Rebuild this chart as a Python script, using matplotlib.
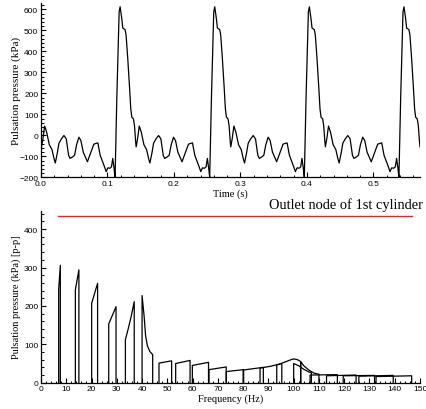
import matplotlib
matplotlib.use("Agg")
import matplotlib.pyplot as plt
from matplotlib.ticker import MultipleLocator
import numpy as np

# one period of the time signal (phase in s, pressure in kPa)
period = 0.1423
n_periods = 4
phase = [0.0, 0.0008, 0.003, 0.0055, 0.0085, 0.0125, 0.0165, 0.0195, 0.0215, 0.0245,
         0.027, 0.0305, 0.0345, 0.038, 0.0415, 0.0437, 0.0475, 0.0505, 0.0535, 0.057,
         0.060, 0.0635, 0.0698, 0.0745, 0.0795, 0.0855, 0.089, 0.092, 0.0955, 0.098,
         0.1005, 0.1035, 0.106, 0.1079, 0.110, 0.1114, 0.114, 0.1175, 0.119, 0.1215,
         0.123, 0.1265, 0.128, 0.1305, 0.133, 0.135, 0.1366, 0.139, 0.1406]
pressure = [-30, -55, -15, 44, 15, -45, -68, -110, -132, -85,
            -38, -18, -1, -17, -95, -110, -103, -95, -45, -9,
            -25, -80, -126, -85, -42, -36, -95, -120, -150, -173,
            -155, -157, -150, -110, -160, -200, 174, 587, 612, 555,
            511, 503, 476, 365, 237, 126, 86, 78, 46]
t_end = 0.5705

# spectrum bands: frequency points (Hz) and peak-to-peak amplitude (kPa) along each band top
band_freqs = [
    [7.0, 7.65],
    [13.6, 15.0],
    [20.05, 22.4],
    [26.8, 29.7],
    [33.4, 34.5, 35.6, 36.9],
    [40.0, 40.8, 41.4, 42.1, 43.1, 44.2],
    [46.7, 51.7],
    [53.3, 59.0],
    [59.9, 66.3],
    [66.5, 73.3],
    [73.3, 80.2],
    [80.0, 88.0],
    [86.7, 91.0, 95.3],
    [93.3, 95.0, 97.0, 99.0, 100.0, 101.5, 102.8],
    [102.8, 104.0, 106.0, 108.0, 110.0],
    [100.0, 102.0, 104.0, 106.0, 107.0],
    [106.5, 117.3],
    [113.0, 124.7],
    [119.6, 132.0],
    [125.8, 139.4],
    [132.6, 146.7],
]
band_amps = [
    [244, 306],
    [242, 294],
    [207, 259],
    [153, 198],
    [112, 140, 170, 211],
    [227, 174, 122, 96, 81, 73],
    [51, 57],
    [50, 58],
    [45, 53],
    [34, 41],
    [29, 34],
    [33, 40],
    [38, 43, 50],
    [46, 50, 55, 60, 62, 60, 55],
    [55, 44, 33, 25, 22],
    [50, 44, 35, 28, 26],
    [20, 21],
    [18, 20],
    [18, 19],
    [17, 19],
    [16, 18],
]

legend_label = "Outlet node of 1st cylinder"
legend_y = 433
legend_x = [6.9, 147.0]

tick_font = "Liberation Sans"
label_font = "Liberation Serif"

fig = plt.figure(figsize=(4.26, 4.10), dpi=100)
ax1 = fig.add_axes([41 / 426, 1 - 178.3 / 410, 379 / 426, 174.3 / 410])
ax2 = fig.add_axes([41 / 426, 1 - 383.7 / 410, 379 / 426, 172.0 / 410])

# time signal
t_all, p_all = [], []
for k in range(n_periods + 1):
    for ph, p in zip(phase, pressure):
        t = ph + k * period
        if t <= t_end:
            t_all.append(t)
            p_all.append(p)
ax1.plot(t_all, p_all, color="black", lw=0.9)
ax1.set_xlim(0, 0.57)
ax1.set_ylim(-200, 630)
ax1.xaxis.set_major_locator(MultipleLocator(0.1))
ax1.xaxis.set_minor_locator(MultipleLocator(0.02))
ax1.yaxis.set_major_locator(MultipleLocator(100))
ax1.yaxis.set_minor_locator(MultipleLocator(20))
ax1.set_xlabel("Time (s)", family=label_font, fontsize=7.5, labelpad=1)
ax1.set_ylabel("Pulsation pressure (kPa)", family=label_font, fontsize=8)

# spectrum
for f, a in zip(band_freqs, band_amps):
    xs = [f[0]] + f + [f[-1]]
    ys = [0] + a + [0]
    ax2.plot(xs, ys, color="black", lw=0.9)
ax2.plot(legend_x, [legend_y, legend_y], color="#c8302a", lw=1.0)
ax2.text(1.008, 1.0, legend_label, transform=ax2.transAxes, ha="right", va="bottom",
         family=label_font, fontsize=10.4)
ax2.set_xlim(0, 150)
ax2.set_ylim(0, 448)
ax2.xaxis.set_major_locator(MultipleLocator(10))
ax2.xaxis.set_minor_locator(MultipleLocator(2))
ax2.yaxis.set_major_locator(MultipleLocator(100))
ax2.yaxis.set_minor_locator(MultipleLocator(20))
ax2.set_xlabel("Frequency (Hz)", family=label_font, fontsize=7.5, labelpad=1)
ax2.set_ylabel("Pulsation pressure (kPa) [p-p]", family=label_font, fontsize=7.5)

for ax in (ax1, ax2):
    ax.yaxis.set_label_coords(-0.052, 0.5)
    ax.spines["top"].set_visible(False)
    ax.spines["right"].set_visible(False)
    for s in ("left", "bottom"):
        ax.spines[s].set_linewidth(0.9)
    ax.tick_params(which="major", direction="in", length=3.5, width=0.8, pad=2,
                   labelsize=6)
    ax.tick_params(which="minor", direction="in", length=1.8, width=0.7)
    for lab in ax.get_xticklabels() + ax.get_yticklabels():
        lab.set_family(tick_font)

fig.savefig("out.png", dpi=100)
